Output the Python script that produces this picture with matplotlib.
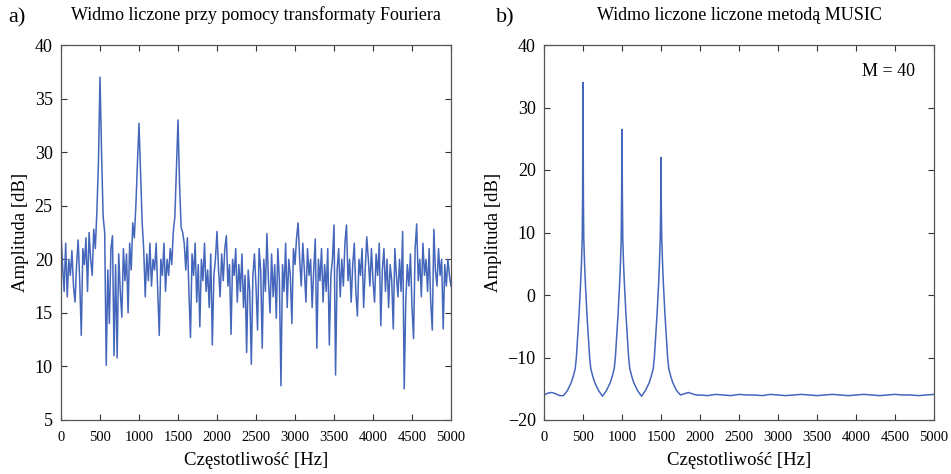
import numpy as np
import matplotlib
matplotlib.use("Agg")
import matplotlib.pyplot as plt

plt.rcParams['font.family'] = ['Liberation Serif', 'DejaVu Serif']

# widmo FFT, co 20 Hz (0..5000)
fft_db = [
    22.3, 19.5, 17, 21.5, 16.5, 20, 18.5, 20.8, 17.5, 16,
    19.5, 21.8, 18, 12.9, 21, 19.5, 22, 17, 22.5, 20,
    18.5, 22.8, 21, 24.5, 29, 37, 30, 24, 22.5, 10.1,
    19, 14, 21, 22.2, 11, 19.5, 10.8, 20.5, 17, 14.6,
    21, 18, 20.5, 15, 21.5, 19, 23.4, 22, 25, 29,
    32.7, 28, 23.5, 21, 16.5, 20.5, 18, 21.5, 17.5, 20,
    19, 21.5, 17, 12.9, 20, 18.5, 21.5, 17, 20, 18.5,
    21, 19.5, 22.6, 24, 28.5, 33,
    27, 23, 22.5, 21.5, 19, 22, 17, 12.7, 20.5, 18.5,
    21.5, 16, 19.5, 13.7, 20, 18, 21.5, 17, 19, 15.5,
    20.5, 12, 18.5, 20,
    22.6, 19, 16.5, 20.5, 18, 21, 22.2, 17.5, 19.5, 13,
    20, 18.5, 21, 16, 19.5, 17, 20.5, 15.5, 18.5, 11.3,
    19, 17, 10.2, 18.5, 20.5, 17.5, 13.4, 21, 19, 11.7,
    20, 17, 22.4, 18, 15, 20.5, 16.5, 19.5, 14.5, 21,
    18, 8.2, 19.5, 17, 21.5, 15.5, 20, 18.5, 14, 21,
    19.5, 22, 23.4, 20, 17.5, 21.5, 19, 16, 21, 18.5,
    20, 15.5, 19, 21.9, 11.7, 20, 18, 21, 16, 19.5,
    17, 21, 12, 18.5, 20, 23.2, 9.2, 19, 21, 16.5,
    20, 17.5, 21.5, 23.2, 18, 20, 16, 19.5, 21.5, 17,
    14.7, 20, 18.5, 21, 15.5, 19, 22.1, 20, 17.5, 21,
    18, 16, 20.5, 18.5, 21.5, 13.8, 19, 21, 17, 20,
    15.5, 19.5, 18, 13.5, 21, 18.5, 16.5, 20, 17, 22.6,
    7.9, 16, 19.5, 17.5, 20.5, 15.5, 12.6, 21, 23.3, 18,
    20, 16.5, 21.5, 18.5, 20, 17, 21, 16, 13.4, 22.8,
    19, 17.5, 21, 18.5, 20, 13.5, 19.5, 17.5, 20, 18.5,
    17.5,
]
fft_hz = np.arange(0, 5001, 20)

# widmo MUSIC
music_hz = [0, 50, 100, 150, 200, 250, 300, 350, 375, 400, 415, 430, 450, 460, 470, 480, 490, 495,
            500, 505, 510, 520, 530, 540, 550, 570, 585, 600, 625, 650, 700,
            750, 800, 850, 875, 900, 915, 930, 950, 960, 970, 980, 990, 995,
            1000, 1005, 1010, 1020, 1030, 1040, 1050, 1070, 1085, 1100, 1125, 1150, 1200,
            1250, 1300, 1350, 1375, 1400, 1415, 1430, 1450, 1460, 1470, 1480, 1490, 1495,
            1500, 1505, 1510, 1520, 1530, 1540, 1550, 1570, 1585, 1600, 1625, 1650, 1700,
            1750, 1800, 1850, 1900, 1950, 2000] + list(range(2100, 5001, 100))
music_db = [-16, -15.7, -15.6, -15.8, -16.1, -16.1, -15.3, -14, -13, -11.8, -10, -7, -3, -0.5, 2, 5, 9, 15.8,
            34, 15.8, 9, 5, 2, -0.5, -3, -7, -10, -11.8, -13, -14, -15.3,
            -16.2, -15.3, -14, -13, -11.8, -10, -7, -3, -0.5, 2, 5, 9, 16,
            26.5, 16, 9, 5, 2, -0.5, -3, -7, -10, -11.8, -13, -14, -15.3,
            -16.2, -15.3, -14, -13, -11.8, -10, -7, -3, -0.5, 2, 5, 9, 13,
            22, 13, 9, 5, 2, -0.5, -3, -7, -10, -11.8, -13, -14, -15.3,
            -16, -15.8, -15.6, -15.8, -16, -16,
            -16.1, -15.9, -16, -16.1, -15.9, -16, -16, -16.1, -15.9, -16,
            -16.1, -16, -15.9, -16, -16.1, -16, -15.9, -16, -16.1, -16,
            -15.9, -16, -16.1, -16, -15.9, -16, -16, -16.1, -16, -15.9]

color = '#4466bb'

fig = plt.figure(figsize=(9.51, 4.74), dpi=100)
ax1 = fig.add_axes([61/951, 1 - 420/474, 390/951, 375/474])
ax2 = fig.add_axes([544/951, 1 - 420/474, 390/951, 375/474])

ax1.plot(fft_hz, fft_db, color=color, lw=1.1)
ax2.plot(music_hz, music_db, color=color, lw=1.1)

for ax in (ax1, ax2):
    ax.set_xlim(0, 5000)
    ax.set_xticks(range(0, 5001, 500))
    ax.tick_params(direction='in', top=True, right=True, length=4, width=0.8,
                   color='#333333')
    ax.tick_params(axis='y', labelsize=13, pad=6)
    ax.tick_params(axis='x', labelsize=10.5, pad=8)
    for s in ax.spines.values():
        s.set_color('#555555')
        s.set_linewidth(0.9)
    ax.set_xlabel('Częstotliwość [Hz]', fontsize=13.5, labelpad=6)
    ax.set_ylabel('Amplituda [dB]', fontsize=13.5, labelpad=4)

ax1.set_ylim(5, 40)
ax1.set_yticks(range(5, 41, 5))
ax2.set_ylim(-20, 40)
ax2.set_yticks(range(-20, 41, 10))

ax1.set_title('Widmo liczone przy pomocy transformaty Fouriera', fontsize=13, pad=18)
ax2.set_title('Widmo liczone liczone metodą MUSIC', fontsize=13, pad=18)

fig.text(8/951, 1 - 18/474, 'a)', fontsize=16, va='center')
fig.text(496/951, 1 - 18/474, 'b)', fontsize=16, va='center')
ax2.text(0.95, 0.93, 'M = 40', transform=ax2.transAxes, fontsize=13,
         ha='right', va='center')

fig.savefig('out.png', dpi=100)
